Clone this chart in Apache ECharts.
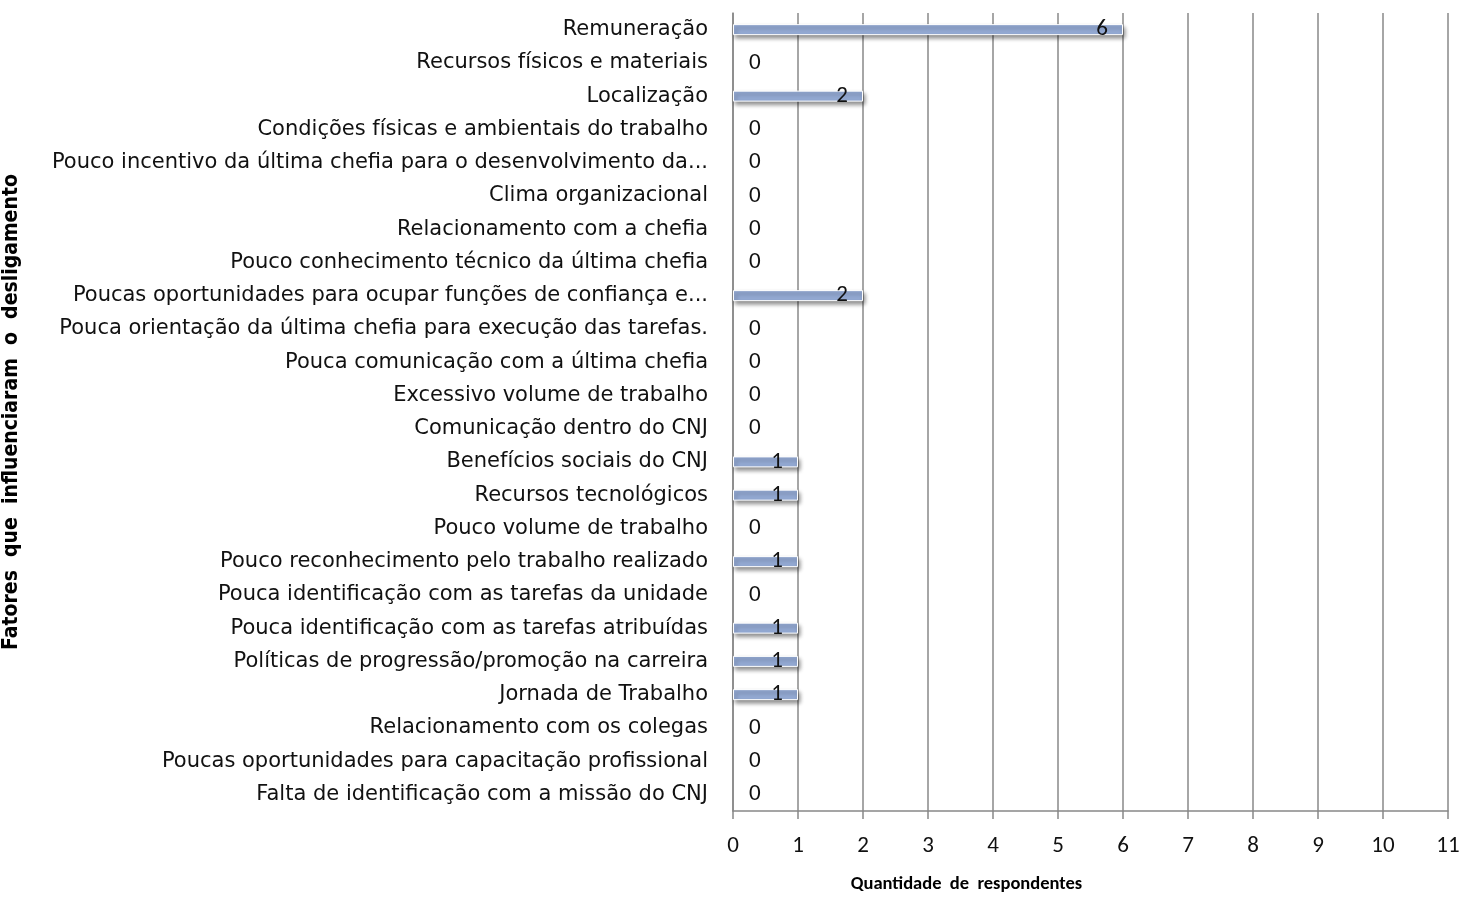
<!DOCTYPE html>
<html>
<head>
<meta charset="utf-8">
<script src="https://cdn.jsdelivr.net/npm/echarts@6/dist/echarts.min.js"></script>
<style>
  html, body { margin: 0; padding: 0; background: #fff; }
  #chart { width: 1464px; height: 899px; }
</style>
</head>
<body>
<div id="chart"></div>
<script>
// fatores (de cima para baixo)
const fatores = [
  'Remuneração',
  'Recursos físicos e materiais',
  'Localização',
  'Condições físicas e ambientais do trabalho',
  'Pouco incentivo da última chefia para o desenvolvimento da...',
  'Clima organizacional',
  'Relacionamento com a chefia',
  'Pouco conhecimento técnico da última chefia',
  'Poucas oportunidades para ocupar funções de confiança e...',
  'Pouca orientação da última chefia para execução das tarefas.',
  'Pouca comunicação com a última chefia',
  'Excessivo volume de trabalho',
  'Comunicação dentro do CNJ',
  'Benefícios sociais do CNJ',
  'Recursos tecnológicos',
  'Pouco volume de trabalho',
  'Pouco reconhecimento pelo trabalho realizado',
  'Pouca identificação com as tarefas da unidade',
  'Pouca identificação com as tarefas atribuídas',
  'Políticas de progressão/promoção na carreira',
  'Jornada de Trabalho',
  'Relacionamento com os colegas',
  'Poucas oportunidades para capacitação profissional',
  'Falta de identificação com a missão do CNJ'
];
const respondentes = [6, 0, 2, 0, 0, 0, 0, 0, 2, 0, 0, 0, 0, 1, 1, 0, 1, 0, 1, 1, 1, 0, 0, 0];

const fonteCat = '"DejaVu Sans", sans-serif';
const fonteNum = 'Carlito, "Liberation Sans Narrow", sans-serif';

let chart = echarts.init(document.getElementById('chart'));
let option = {
  animation: false,
  grid: {
    left: 733,
    right: 16,
    top: 13,
    bottom: 85
  },
  xAxis: {
    type: 'value',
    min: 0,
    max: 11,
    interval: 1,
    name: 'Quantidade  de  respondentes',
    nameLocation: 'middle',
    nameGap: 64,
    nameTextStyle: {
      fontFamily: fonteNum,
      fontWeight: 'bold',
      fontSize: 18.5,
      color: '#000',
      padding: [0, 248, 0, 0]
    },
    axisLine: { show: true, lineStyle: { color: '#888', width: 1.5 } },
    axisTick: { show: true, length: 8, lineStyle: { color: '#888', width: 1.5 } },
    axisLabel: { margin: 24, fontSize: 23, color: '#111', fontFamily: fonteNum },
    splitLine: { show: true, lineStyle: { color: '#888', width: 1.5 } }
  },
  yAxis: {
    type: 'category',
    inverse: true,
    data: fatores,
    name: 'Fatores  que  influenciaram  o  desligamento',
    nameLocation: 'middle',
    nameGap: 711,
    nameRotate: 90,
    nameTextStyle: {
      fontFamily: '"DejaVu Sans Condensed", sans-serif',
      fontWeight: 'bold',
      fontSize: 21,
      color: '#000'
    },
    axisLine: { show: true, lineStyle: { color: '#888', width: 1.5 } },
    axisTick: { show: false },
    axisLabel: { margin: 25, fontSize: 21, color: '#111', fontFamily: fonteCat, interval: 0 },
    splitLine: { show: false }
  },
  series: [{
    type: 'bar',
    barWidth: 11,
    data: respondentes.map(function (v) {
      if (v === 0) {
        return {
          value: v,
          itemStyle: { borderWidth: 0, shadowColor: 'transparent' },
          label: { position: 'right', distance: 16 }
        };
      }
      return { value: v, label: { position: 'insideRight', distance: 15 } };
    }),
    itemStyle: {
      color: '#94AAD4',
      borderColor: '#fff',
      borderWidth: 1,
      shadowColor: 'rgba(0,0,0,0.45)',
      shadowBlur: 4,
      shadowOffsetX: 2,
      shadowOffsetY: 3
    },
    label: {
      show: true,
      fontSize: 23,
      color: '#111',
      fontFamily: fonteNum
    }
  }]
};
chart.setOption(option);
</script>
</body>
</html>
